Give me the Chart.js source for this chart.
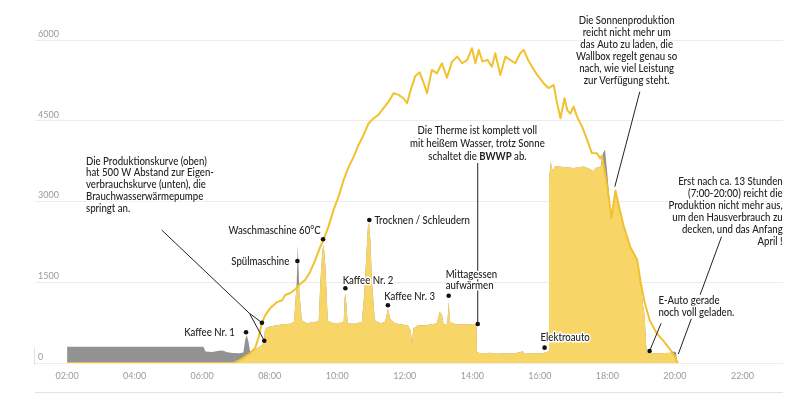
<!DOCTYPE html>
<html>
<head>
<meta charset="utf-8">
<script src="https://cdn.jsdelivr.net/npm/chart.js@4/dist/chart.umd.min.js"></script>
<style>
  html, body { margin: 0; padding: 0; background: #fff; }
  #wrap { position: relative; width: 800px; height: 395px; }
</style>
</head>
<body>
<div id="wrap"><canvas id="chart" width="800" height="395"></canvas></div>
<script>
// --- Daten (Stunden / Watt) ---
const hourTicks = [2, 4, 6, 8, 10, 12, 14, 16, 18, 20, 22];
const hourLabels = ['02:00', '04:00', '06:00', '08:00', '10:00', '12:00', '14:00', '16:00', '18:00', '20:00', '22:00'];
const wattTicks = [0, 1500, 3000, 4500, 6000];

// Produktion (Linie)
const prodTime = [2.0, 6.93, 7.1, 7.25, 7.42, 7.57, 7.67, 7.77, 7.87, 8.01, 8.21, 8.36, 8.46, 8.61, 8.76, 8.9, 9.05, 9.2, 9.35, 9.5, 9.6, 9.74, 9.89, 10.04, 10.19, 10.34, 10.49, 10.63, 10.78, 10.93, 11.08, 11.22, 11.37, 11.52, 11.67, 11.82, 11.96, 12.07, 12.16, 12.31, 12.44, 12.56, 12.66, 12.8, 12.95, 13.1, 13.25, 13.4, 13.55, 13.7, 13.85, 13.99, 14.09, 14.19, 14.3, 14.45, 14.58, 14.68, 14.83, 14.98, 15.12, 15.27, 15.42, 15.52, 15.65, 15.77, 15.92, 16.11, 16.26, 16.41, 16.51, 16.61, 16.73, 16.81, 16.9, 17.0, 17.1, 17.25, 17.4, 17.54, 17.69, 17.79, 17.84, 17.99, 18.09, 18.12, 18.24, 18.34, 18.48, 18.68, 18.88, 18.98, 19.1, 19.25, 19.45, 19.67, 19.85, 20.0, 20.08];
const prodWatt = [0, 0, 50, 110, 180, 280, 470, 749, 890, 1016, 1130, 1160, 1263, 1300, 1370, 1468, 1542, 1696, 1914, 2161, 2298, 2533, 2843, 3090, 3400, 3647, 3833, 4050, 4236, 4454, 4547, 4608, 4733, 4855, 5011, 4980, 4918, 4825, 5041, 5330, 5400, 5200, 5011, 5444, 5380, 5568, 5300, 5598, 5691, 5568, 5630, 5847, 5568, 5816, 5600, 5630, 5505, 5754, 5351, 5691, 5630, 5568, 5754, 5816, 5630, 5505, 5351, 5197, 5104, 5165, 4825, 4547, 4918, 4701, 4630, 4763, 4577, 4391, 4143, 3900, 3896, 3800, 3850, 3300, 2850, 2700, 3200, 2920, 2550, 2150, 1920, 1520, 1130, 800, 560, 400, 260, 120, 0];

// Eigenverbrauch (gelbe Fläche)
const useTime = [2.0, 6.93, 7.1, 7.22, 7.32, 7.42, 7.55, 7.7, 7.82, 7.86, 7.9, 8.0, 8.2, 8.4, 8.6, 8.72, 8.79, 8.83, 8.86, 8.88, 8.95, 9.1, 9.3, 9.45, 9.5, 9.56, 9.6, 9.65, 9.72, 9.9, 10.1, 10.19, 10.22, 10.24, 10.27, 10.31, 10.5, 10.73, 10.8, 10.87, 10.91, 10.94, 10.98, 11.03, 11.1, 11.13, 11.3, 11.42, 11.5, 11.57, 11.7, 11.9, 12.1, 12.18, 12.21, 12.25, 12.4, 12.6, 12.8, 12.95, 13.03, 13.1, 13.15, 13.26, 13.3, 13.34, 13.5, 13.7, 14.0, 14.12, 14.14, 14.3, 14.5, 14.7, 14.9, 15.1, 15.3, 15.5, 15.55, 15.8, 16.0, 16.2, 16.25, 16.27, 16.32, 16.38, 16.45, 16.7, 17.0, 17.3, 17.5, 17.58, 17.65, 17.8, 17.87, 17.93, 18.0, 18.06, 18.12, 18.24, 18.34, 18.48, 18.68, 18.88, 18.96, 19.0, 19.05, 19.1, 19.15, 19.18, 19.4, 19.7, 19.88, 19.95, 20.0, 20.08];
const useWatt = [0, 0, 50, 95, 140, 180, 250, 300, 366, 620, 650, 680, 700, 720, 730, 760, 1390, 1440, 1450, 1300, 800, 740, 760, 770, 1500, 2100, 2190, 1800, 780, 740, 750, 760, 1200, 1295, 1100, 740, 730, 760, 1300, 2100, 2560, 2600, 2300, 1500, 900, 780, 740, 770, 1010, 820, 740, 720, 690, 600, 340, 640, 700, 700, 720, 740, 950, 900, 720, 730, 1140, 760, 720, 720, 725, 720, 200, 170, 190, 170, 180, 175, 185, 220, 170, 180, 175, 200, 220, 3400, 3740, 3560, 3660, 3640, 3620, 3650, 3600, 3560, 3620, 3650, 3800, 3520, 3250, 2990, 2650, 3150, 2900, 2550, 2150, 1920, 1500, 1400, 1100, 900, 300, 190, 180, 185, 190, 167, 120, 0];

// Hausverbrauch (graue Fläche)
const houseTime = [2.0, 6.04, 6.1, 6.3, 6.5, 6.6, 6.75, 6.9, 7.1, 7.22, 7.27, 7.32, 7.37, 7.42, 7.55, 7.7, 7.82, 7.86, 7.9, 8.0, 8.2, 8.4, 8.6, 8.72, 8.8, 8.83, 8.88, 8.95, 9.1, 9.3, 9.45, 9.5, 9.56, 9.6, 9.65, 9.72, 9.9, 10.1, 10.19, 10.22, 10.24, 10.27, 10.31, 10.5, 10.73, 10.8, 10.87, 10.91, 10.94, 10.98, 11.03, 11.1, 11.13, 11.3, 11.42, 11.5, 11.57, 11.7, 11.9, 12.1, 12.18, 12.21, 12.25, 12.4, 12.6, 12.8, 12.95, 13.03, 13.1, 13.15, 13.26, 13.3, 13.34, 13.5, 13.7, 14.0, 14.12, 14.14, 14.3, 14.5, 14.7, 14.9, 15.1, 15.3, 15.5, 15.55, 15.8, 16.0, 16.2, 16.25, 16.27, 16.32, 16.38, 16.45, 16.7, 17.0, 17.3, 17.5, 17.58, 17.65, 17.8, 17.87, 17.93, 18.0, 18.06, 18.12, 18.24, 18.34, 18.48, 18.68, 18.88, 18.96, 19.0, 19.05, 19.1, 19.15, 19.18, 19.4, 19.7, 19.9, 19.96, 20.03, 20.07];
const houseWatt = [303, 300, 215, 205, 228, 232, 200, 185, 182, 195, 420, 520, 400, 215, 250, 300, 366, 620, 650, 680, 700, 720, 730, 760, 1500, 2190, 1300, 800, 740, 760, 770, 1500, 2100, 2190, 1800, 780, 740, 750, 760, 1200, 1295, 1100, 740, 730, 760, 1300, 2100, 2560, 2600, 2300, 1500, 900, 780, 740, 770, 1010, 820, 740, 720, 690, 600, 340, 640, 700, 700, 720, 740, 950, 900, 720, 730, 1140, 760, 720, 720, 725, 720, 200, 170, 190, 170, 180, 175, 185, 220, 170, 180, 175, 200, 220, 3400, 3740, 3560, 3660, 3640, 3620, 3650, 3600, 3560, 3620, 3650, 3900, 3960, 3500, 3050, 2650, 3150, 2900, 2550, 2150, 1920, 1500, 1400, 1100, 900, 300, 190, 180, 185, 190, 215, 200, 0];

// --- Anmerkungen (Positionen in Stunden / Watt) ---
const notes = [
  { text: ['Die Produktionskurve (oben)', 'hat 500 W Abstand zur Eigen-', 'verbrauchskurve (unten), die', 'Brauchwasserwärmepumpe', 'springt an.'],
    at: [2.56, 3752], align: 'left', lh: 11.9,
    leaders: [[[4.80, 2471], [7.40, 923], [7.77, 749]], [[7.40, 923], [7.84, 414]]],
    dots: [[7.77, 749], [7.84, 414]] },
  { text: ['Kaffee Nr. 1'], at: [6.97, 576], align: 'right', dots: [[7.30, 570]] },
  { text: ['Spülmaschine'], at: [8.58, 1895], align: 'right', dots: [[8.82, 1895]] },
  { text: ['Waschmaschine 60°C'], at: [9.51, 2458], align: 'right', dots: [[9.58, 2298]] },
  { text: ['Trocknen / Schleudern'], at: [11.10, 2656], align: 'left', dots: [[10.95, 2657]] },
  { text: ['Kaffee Nr. 2'], at: [10.16, 1529], align: 'left', dots: [[10.24, 1388]] },
  { text: ['Kaffee Nr. 3'], at: [11.39, 1232], align: 'left', dots: [[11.50, 1072]] },
  { text: ['Mittagessen', 'aufwärmen'], at: [13.21, 1653], align: 'left', lh: 11.7, dots: [[13.30, 1250]] },
  { text: ['Die Therme ist komplett voll', 'mit heißem Wasser, trotz Sonne', 'schaltet die **BWWP** ab.'],
    at: [14.15, 4328], align: 'center', lh: 13,
    leaders: [[[14.16, 725], [14.16, 3715]]], dots: [[14.16, 725]] },
  { text: ['Elektroauto'], at: [16.02, 477], align: 'left', dots: [[16.14, 285]] },
  { text: ['Die Sonnenproduktion', 'reicht nicht mehr um', 'das Auto zu laden, die', 'Wallbox regelt genau so', 'nach, wie viel Leistung', 'zur Verfügung steht.'],
    at: [18.57, 6359], align: 'center', lh: 11.86,
    leaders: [[[18.96, 5040], [18.22, 3275]]] },
  { text: ['Erst nach ca. 13 Stunden', '(7:00-20:00) reicht die', 'Produktion nicht mehr aus,', 'um den Hausverbrauch zu', 'decken, und das Anfang', 'April !'],
    at: [23.19, 3368], align: 'right', lh: 12,
    leaders: [[[21.38, 2346], [20.10, 167]]] },
  { text: ['E-Auto gerade', 'noch voll geladen.'], at: [19.51, 1157], align: 'left', lh: 12, bg: true,
    leaders: [[[19.25, 223], [19.59, 737]]], dots: [[19.25, 223]] }
];

const NOTE_FONT = '500 11px Lato';
const NOTE_BOLD = 'bold 11px Lato';
const NOTE_SQUEEZE = 0.875; // schmalere Schrift nachbilden

function drawNoteText(ctx, note, ax, ay) {
  const lh = note.lh || 12;
  const lines = note.text.map(line => {
    const parts = line.split('**');
    const widths = parts.map((s, k) => {
      ctx.font = k % 2 ? NOTE_BOLD : NOTE_FONT;
      return ctx.measureText(s).width * NOTE_SQUEEZE;
    });
    const total = widths.reduce((a, b) => a + b, 0);
    return { parts, widths, total };
  });
  const startX = l => note.align === 'left' ? ax : note.align === 'right' ? ax - l.total : ax - l.total / 2;

  if (note.bg) {
    ctx.fillStyle = '#fff';
    lines.forEach((l, i) => ctx.fillRect(startX(l) - 2, ay + i * lh - lh / 2, l.total + 4, lh));
  }
  ctx.textBaseline = 'middle';
  ctx.textAlign = 'left';
  ctx.lineJoin = 'round';
  lines.forEach((l, i) => {
    let sx = startX(l);
    const yy = ay + i * lh;
    l.parts.forEach((s, k) => {
      ctx.save();
      ctx.font = k % 2 ? NOTE_BOLD : NOTE_FONT;
      ctx.translate(sx, yy);
      ctx.scale(NOTE_SQUEEZE, 1);
      ctx.strokeStyle = '#fff';
      ctx.lineWidth = 3;
      ctx.strokeText(s, 0, 0);
      ctx.fillStyle = '#222';
      ctx.fillText(s, 0, 0);
      ctx.restore();
      sx += l.widths[k];
    });
  });
}

const notesPlugin = {
  id: 'notes',
  afterDatasetsDraw(chart) {
    const { ctx, chartArea, scales: { x, y } } = chart;
    const px = p => [x.getPixelForValue(p[0]), y.getPixelForValue(p[1])];
    ctx.save();
    // Hinweislinien
    ctx.strokeStyle = '#222';
    ctx.lineWidth = 1;
    notes.forEach(n => (n.leaders || []).forEach(path => {
      ctx.beginPath();
      path.forEach((p, i) => {
        const [a, b] = px(p);
        if (i) ctx.lineTo(a, b); else ctx.moveTo(a, b);
      });
      ctx.stroke();
    }));
    // Texte
    notes.forEach(n => {
      const [ax, ay] = px(n.at);
      drawNoteText(ctx, n, ax, ay);
    });
    // Punkte
    ctx.fillStyle = '#111';
    notes.forEach(n => (n.dots || []).forEach(p => {
      const [a, b] = px(p);
      ctx.beginPath();
      ctx.arc(a, b, 2.3, 0, Math.PI * 2);
      ctx.fill();
    }));
    // kurzer Strich links unten und Linie ganz unten
    ctx.strokeStyle = '#e2e2e2';
    ctx.beginPath();
    ctx.moveTo(chartArea.left - 0.5, chartArea.bottom - 16);
    ctx.lineTo(chartArea.left - 0.5, chartArea.bottom + 2);
    ctx.moveTo(chartArea.left, 392.5);
    ctx.lineTo(chartArea.right, 392.5);
    ctx.stroke();
    ctx.restore();
  }
};

const toPoints = (t, v) => t.map((h, i) => ({ x: h, y: v[i] }));

new Chart(document.getElementById('chart'), {
  type: 'line',
  data: {
    datasets: [
      {
        label: 'Produktion',
        data: toPoints(prodTime, prodWatt),
        borderColor: '#F2C12E',
        borderWidth: 2,
        borderJoinStyle: 'round',
        fill: false,
        pointRadius: 0,
        tension: 0
      },
      {
        label: 'Eigenverbrauch',
        data: toPoints(useTime, useWatt),
        backgroundColor: '#F8D567',
        borderWidth: 0,
        fill: 'origin',
        pointRadius: 0,
        tension: 0
      },
      {
        label: 'Hausverbrauch',
        data: toPoints(houseTime, houseWatt),
        backgroundColor: '#929292',
        borderWidth: 0,
        fill: 'origin',
        pointRadius: 0,
        tension: 0
      }
    ]
  },
  options: {
    responsive: false,
    animation: false,
    devicePixelRatio: 1,
    layout: { padding: { top: 40, left: 32, right: 17, bottom: 1 } },
    plugins: { legend: { display: false }, tooltip: { enabled: false } },
    scales: {
      x: {
        type: 'linear',
        min: 1.05,
        max: 23.2,
        afterBuildTicks: axis => { axis.ticks = hourTicks.map(v => ({ value: v })); },
        afterFit: axis => { axis.height = 31; },
        ticks: {
          callback: (v, i) => hourLabels[i],
          color: '#9a9a9a',
          font: { family: 'Lato', size: 9 },
          padding: 8,
          maxRotation: 0,
          autoSkip: false
        },
        grid: { display: false, drawTicks: false },
        border: { display: false }
      },
      y: {
        min: 0,
        max: 6000,
        afterBuildTicks: axis => { axis.ticks = wattTicks.map(v => ({ value: v })); },
        afterFit: axis => { axis.width = 3; },
        ticks: {
          mirror: true,
          padding: 3,
          labelOffset: -6,
          callback: v => String(v),
          color: '#9a9a9a',
          font: { family: 'Lato', size: 9 }
        },
        grid: { color: '#ececec', lineWidth: 1, drawTicks: false },
        border: { display: false }
      }
    }
  },
  plugins: [notesPlugin]
});
</script>
</body>
</html>
